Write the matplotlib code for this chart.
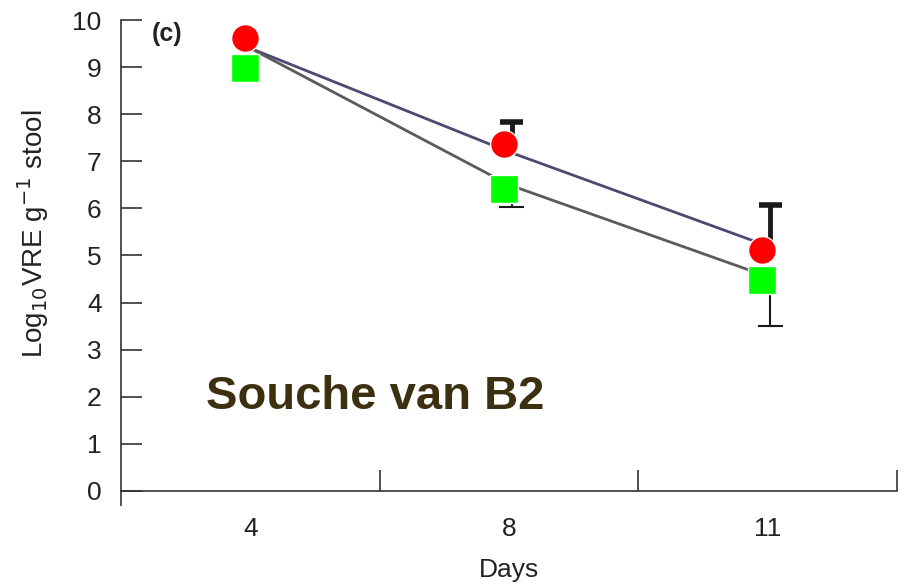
import matplotlib
matplotlib.use("Agg")
import matplotlib.pyplot as plt
import numpy as np

# data
days = ["4", "8", "11"]
line_blue = [9.4, 7.2, 5.2]
line_gray = [9.4, 6.5, 4.55]
red_pts = [9.62, 7.36, 5.12]
green_pts = [8.98, 6.42, 4.47]
err_up = [None, 7.83, 6.07]
err_lo = [None, 6.03, 3.50]

plt.rcParams['font.family'] = ['Liberation Sans', 'DejaVu Sans']

fig = plt.figure(figsize=(9.16, 5.86), dpi=100)
ax = fig.add_axes([121 / 916, 1 - 505 / 586, 776 / 916, 485 / 586])

x = np.arange(len(days))

# error bars (upper thick, lower thin)
for i in range(len(days)):
    if err_up[i] is None:
        continue
    xe = x[i] + 0.01
    ax.plot([xe, xe], [line_blue[i], err_up[i]], color="#1a1a1a", lw=3.5,
            solid_capstyle="butt", zorder=2)
    ax.plot([xe - 0.045, xe + 0.045], [err_up[i], err_up[i]], color="#1a1a1a",
            lw=4, solid_capstyle="butt", zorder=2)
    ax.plot([xe, xe], [line_gray[i], err_lo[i]], color="#1a1a1a", lw=1.5,
            zorder=2)
    ax.plot([xe - 0.045, xe + 0.045], [err_lo[i], err_lo[i]], color="#1a1a1a",
            lw=1.5, zorder=2)

ax.plot(x, line_blue, color="#4b4b72", lw=2, zorder=3)
ax.plot(x, line_gray, color="#5a5a5a", lw=2, zorder=3)

off = -0.02
ax.plot(x + off, green_pts, ls="none", marker="s", ms=20, mfc="#00ff00",
        mec="white", mew=1, zorder=5)
ax.plot(x + off, red_pts, ls="none", marker="o", ms=20, mfc="#ff0000",
        mec="white", mew=1, zorder=6)

ax.set_xlim(-0.5, 2.5)
ax.set_ylim(-0.3, 10)
ax.spines['top'].set_visible(False)
ax.spines['right'].set_visible(False)
ax.spines['bottom'].set_position(('data', 0))
for s in ['left', 'bottom']:
    ax.spines[s].set_color("#333333")
    ax.spines[s].set_linewidth(1.2)

ax.set_xticks(x)
ax.set_xticklabels(days)
ax.set_xticks([0.5, 1.5, 2.5], minor=True)
ax.tick_params(axis='x', which='major', length=0, pad=19, labelsize=19,
               colors="#222222")
ax.tick_params(axis='x', which='minor', direction='in', length=15, width=1.2,
               color="#333333")
ax.set_yticks(range(0, 11))
ax.tick_params(axis='y', direction='in', length=15, width=1.2, color="#333333",
               labelsize=19, labelcolor="#222222", pad=14)

ax.set_xlabel("Days", fontsize=19, color="#222222", labelpad=12)
ax.set_ylabel("Log$_{10}$VRE g$^{-1}$ stool", fontsize=20, color="#222222")
ax.yaxis.set_label_coords(-0.09, 0.56)

ax.text(0.04, 0.995, "(c)", transform=ax.transAxes, fontsize=18,
        fontweight="bold", color="#222222", va="top")
ax.text(0.11, 2.0, "Souche van B2", fontsize=34, fontweight="bold",
        color="#3c3010", va="center", transform=ax.get_yaxis_transform())

fig.savefig("out.png", dpi=100)
